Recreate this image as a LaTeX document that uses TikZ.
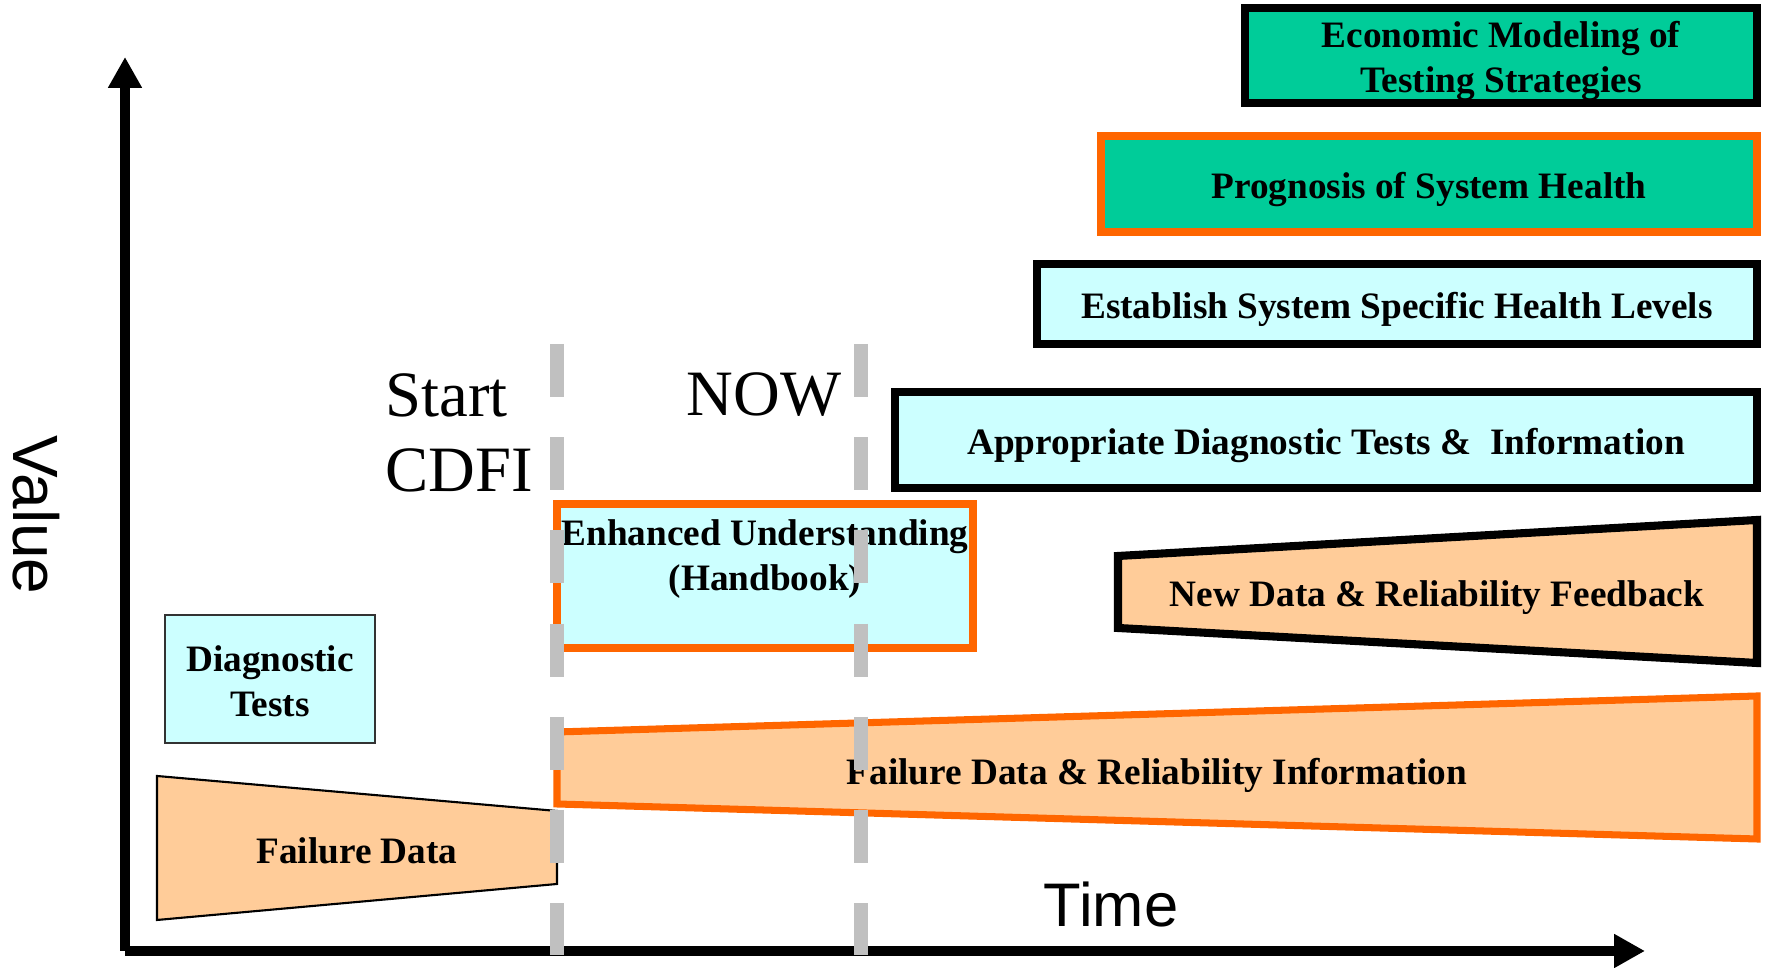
\documentclass[tikz,border=0pt]{standalone}
\usepackage{fontspec}
\setmainfont{Liberation Serif}
\newfontfamily\arialfont{Liberation Sans}
\usepackage{xcolor}
\usetikzlibrary{arrows.meta}

\definecolor{boxgreen}{HTML}{00CC99}
\definecolor{boxcyan}{HTML}{CCFFFF}
\definecolor{edgeorange}{HTML}{FF6600}
\definecolor{datapeach}{HTML}{FFCC99}
\definecolor{markgray}{HTML}{C0C0C0}

\begin{document}
\begin{tikzpicture}[x=0.01cm, y=-0.01cm,
    stage/.style={draw, rectangle, inner sep=0pt, outer sep=0pt, line width=2.3pt, align=center, font=\bfseries\fontsize{10.6pt}{12.8pt}\selectfont},
    oneline/.style={text height=8.5pt, text depth=0pt},
    datatext/.style={inner sep=0pt, align=center, font=\bfseries\fontsize{10.6pt}{12.8pt}\selectfont},
    datatrap/.style={fill=datapeach, line join=miter},
    bigtext/.style={inner sep=0pt, font=\fontsize{18.4pt}{21.3pt}\selectfont},
    axistext/.style={inner sep=0pt, font=\arialfont\fontsize{17.5pt}{21pt}\selectfont},
    axisarr/.style={line width=2.85pt, -{Triangle[length=8.8pt, width=9.1pt]}},
    milestone/.style={draw=markgray, line width=3.7pt, dash pattern=on 15.1pt off 11.4pt}
]
\useasboundingbox (0,0) rectangle (1768,968);

% axes
\coordinate (orig) at (125,951);
\coordinate (vtip) at (125,57);
\coordinate (ttip) at (1645,951);
\draw[axisarr] (orig) -- (vtip);
\draw[axisarr] (orig) -- (ttip);
\node[axistext, font=\arialfont\fontsize{18.2pt}{21pt}\selectfont, rotate=-90, anchor=base] (valuelbl) at (13,515) {Value};
\node[axistext, anchor=base] (timelbl) at (1111,927) {Time};

% goal boxes
\node[stage, fill=boxgreen, minimum width=5.12cm, minimum height=0.95cm] (eco) at (1501,55.5) {};
\node[datatext] (ecotext) at (1501,61.5) {Economic Modeling of\\Testing Strategies};
\node[stage, oneline, fill=boxgreen, draw=edgeorange, line width=2.2pt, minimum width=6.56cm, minimum height=0.96cm] (prog) at (1429,184) {Prognosis of System Health};
\node[stage, oneline, fill=boxcyan, minimum width=7.2cm, minimum height=0.8cm] (estab) at (1397,304) {Establish System Specific Health Levels};
\node[stage, oneline, fill=boxcyan, minimum width=8.62cm, minimum height=0.96cm] (approp) at (1326,440) {Appropriate Diagnostic Tests \&\ \ Information};
\node[stage, fill=boxcyan, draw=edgeorange, line width=2.2pt, minimum width=4.16cm, minimum height=1.44cm] (enh) at (765,576) {};
\node[datatext] (enhtext) at (765,559.5) {Enhanced Understanding\\(Handbook)};
\node[stage, fill=boxcyan, draw=black!80, line width=0.5pt, minimum width=2.1cm, minimum height=1.28cm] (diag) at (270,679) {};
\node[datatext] (diagtext) at (270,681.5) {Diagnostic\\Tests};

% data wedges
\draw[datatrap, line width=2.3pt] (1118,556) -- (1757,520) -- (1757,663) -- (1118,628) -- cycle;
\node[datatext, oneline] (newdata) at (1437,592) {New Data \& Reliability Feedback};
\draw[datatrap, draw=edgeorange, line width=2pt] (557,732) -- (1757,696) -- (1757,839) -- (557,804) -- cycle;
\node[datatext, oneline] (relinfo) at (1157,769.5) {Failure Data \& Reliability Information};
\draw[datatrap, line width=0.6pt] (157,776) -- (557,811) -- (557,884) -- (157,920) -- cycle;
\node[datatext, oneline] (faildata) at (357,848.5) {Failure Data};

% milestones
\node[bigtext, align=left, anchor=north west] (start) at (385,373) {Start\\CDFI};
\node[bigtext, anchor=base] (now) at (764,416) {NOW};
\coordinate (s1) at (557,344);
\coordinate (s1b) at (557,955);
\coordinate (s2) at (861,344);
\coordinate (s2b) at (861,955);
\draw[milestone] (s1) -- (s1b);
\draw[milestone] (s2) -- (s2b);
\end{tikzpicture}
\end{document}
